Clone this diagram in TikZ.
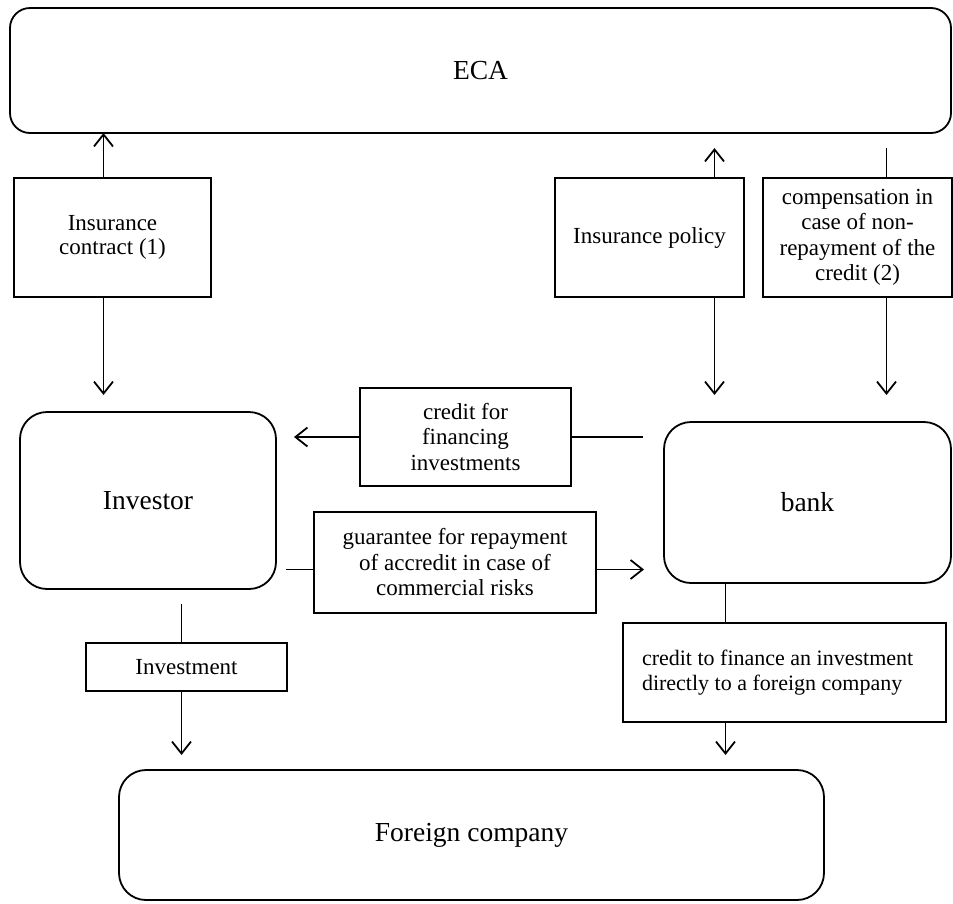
\documentclass[tikz,border=0pt]{standalone}
\usepackage{fontspec}
\setmainfont{Liberation Serif}
\usetikzlibrary{arrows.meta}
\begin{document}
\begin{tikzpicture}[x=1pt,y=-1pt,
  every node/.style={outer sep=0pt,inner sep=0pt},
  base/.style={draw,line width=1.8pt,anchor=north west},
  rbox/.style={base,rounded corners=27pt,font=\fontsize{27.5}{31}\selectfont},
  tbox/.style={base,rectangle,align=center,font=\fontsize{23}{25.5}\selectfont},
  arr/.style={line width=1.8pt,-{Straight Barb[length=12pt,width=19pt,line width=1.8pt]}},
  ln/.style={line width=1.8pt}]
\useasboundingbox (0,0) rectangle (953,903);
% main boxes
\node[rbox,rounded corners=20pt,minimum width=941pt,minimum height=125pt] (eca) at (10,8) {ECA};
\node[rbox,minimum width=256pt,minimum height=177pt] (inv) at (20,412) {Investor};
\node[rbox,minimum width=287pt,minimum height=161pt] (bank) at (664,422) {bank};
\node[rbox,minimum width=705pt,minimum height=130pt] (fc) at (119,770) {Foreign company};
% text boxes
\node[tbox,minimum width=197pt,minimum height=119pt] (ic) at (14,178) {Insurance\\[-1pt]contract (1)};
\node[tbox,minimum width=189pt,minimum height=119pt] (ip) at (555,178) {Insurance policy};
\node[tbox,minimum width=189pt,minimum height=119pt] (comp) at (763,178) {compensation in\\case of non-\\repayment of the\\credit (2)};
\node[tbox,minimum width=211pt,minimum height=98pt] (cf) at (360,388) {credit for\\financing\\investments};
\node[tbox,minimum width=282pt,minimum height=101pt] (gr) at (314,512) {guarantee for repayment\\of accredit in case of\\commercial risks};
\node[tbox,minimum width=201pt,minimum height=48pt] (invst) at (86,643) {Investment};
\node[tbox,minimum width=323pt,minimum height=99pt,align=flush left,text width=323pt,font=\fontsize{22}{25.5}\selectfont] (cfi) at (623,623) {\hspace*{19pt}credit to finance an investment\\\hspace*{19pt}directly to a foreign company};
% connectors
\draw[arr] ([xshift=-9pt]ic.north) -- ([xshift=-9pt]ic.north |- eca.south);
\draw[arr] ([xshift=-9pt]ic.south) -- ([xshift=-9pt,yshift=-98pt]ic.south);
\draw[arr] ([xshift=65pt]ip.north) -- ([xshift=65pt,yshift=30pt]ip.north);
\coordinate (cs) at ([xshift=29pt,yshift=30pt]comp.north);
\draw[ln] (cs) -- ([xshift=29pt]comp.north);
\draw[arr] ([xshift=65pt]ip.south) -- ([xshift=65pt,yshift=-98pt]ip.south);
\draw[arr] ([xshift=29pt]comp.south) -- ([xshift=29pt,yshift=-98pt]comp.south);
\coordinate (cfr) at ([xshift=72pt]cf.east);
\draw[ln] (cfr) -- (cf.east);
\draw[arr] (cf.west) -- ([xshift=-66pt]cf.west);
\coordinate (grl) at ([xshift=-28pt,yshift=-7pt]gr.west);
\draw[ln] (grl) -- ([yshift=-7pt]gr.west);
\draw[arr] ([yshift=-7pt]gr.east) -- ([xshift=48pt,yshift=-7pt]gr.east);
\coordinate (ivt) at ([xshift=-5pt,yshift=39pt]invst.north);
\draw[ln] (ivt) -- ([xshift=-5pt]invst.north);
\draw[arr] ([xshift=-5pt]invst.south) -- ([xshift=-5pt]invst.south |- 0,755);
\draw[ln] ([xshift=-59pt]cfi.north |- bank.south) -- ([xshift=-59pt]cfi.north);
\draw[arr] ([xshift=-59pt]cfi.south) -- ([xshift=-59pt]cfi.south |- 0,755);
\end{tikzpicture}
\end{document}
